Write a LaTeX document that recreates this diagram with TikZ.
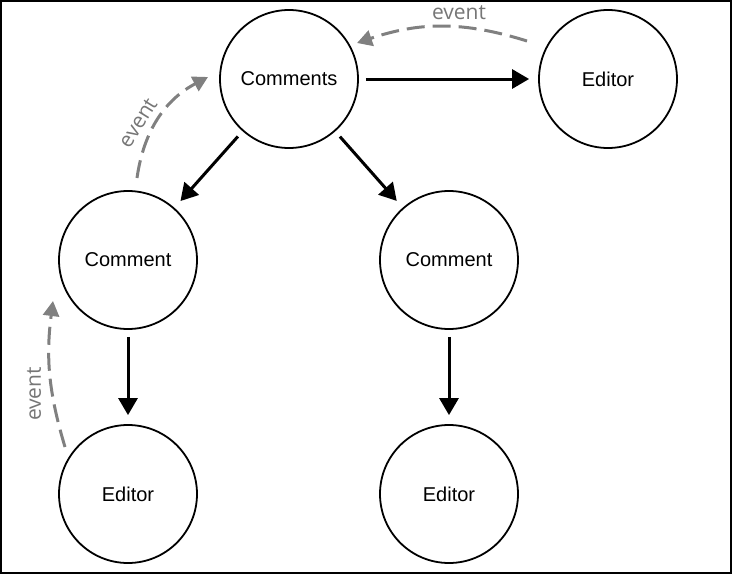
\documentclass[tikz,border=0pt]{standalone}
\usepackage{fontspec}
\setmainfont{Liberation Sans}
\newfontfamily\evfont{Open Sans}
\usetikzlibrary{arrows.meta,calc}
\definecolor{evgray}{RGB}{128,128,128}
\definecolor{evtext}{RGB}{118,118,118}
\tikzset{
  blob/.style={circle, draw=black, line width=1.8pt, minimum size=138pt, inner sep=0pt, font=\fontsize{20}{23}\selectfont},
  flow/.style={line width=3pt, -{Triangle[length=17pt,width=19pt]}, shorten <=7pt, shorten >=9pt},
  evline/.style={evgray, line width=3pt, dash pattern=on 18pt off 8pt, -{Triangle[length=15pt,width=16pt]}},
  evlabel/.style={text=evtext, font=\evfont\fontsize{21}{24}\selectfont, inner sep=0pt}
}
\begin{document}
\begin{tikzpicture}[x=1pt,y=-1pt]
\useasboundingbox (0,0) rectangle (732,574);
\draw[line width=2pt] (1,1) rectangle (731,573);
\node[blob] (cs) at (289,79) {Comments};
\node[blob] (e1) at (608,79) {Editor};
\node[blob] (c1) at (128,260) {Comment};
\node[blob] (c2) at (449,260) {Comment};
\node[blob] (e2) at (128,494) {Editor};
\node[blob] (e3) at (449,494) {Editor};
\draw[flow] (cs) -- (e1);
\draw[flow] (cs) -- (c1);
\draw[flow] (cs) -- (c2);
\draw[flow] (c1) -- (e2);
\draw[flow] (c2) -- (e3);
\draw[evline] ($(e1)+(-81,-38)$) to[bend right=18] ($(cs)+(68,-36)$);
\draw[evline] ($(c1)+(9,-82)$) to[bend left=27] ($(cs)+(-81,-2)$);
\draw[evline] ($(e2)+(-63,-47)$) to[bend left=12] ($(c1)+(-75,41)$);
\node[evlabel] (l1) at (459,13) {event};
\node[evlabel, rotate=58] (l2) at (138,123) {event};
\node[evlabel, rotate=90] (l3) at (34,394) {event};
\end{tikzpicture}
\end{document}
